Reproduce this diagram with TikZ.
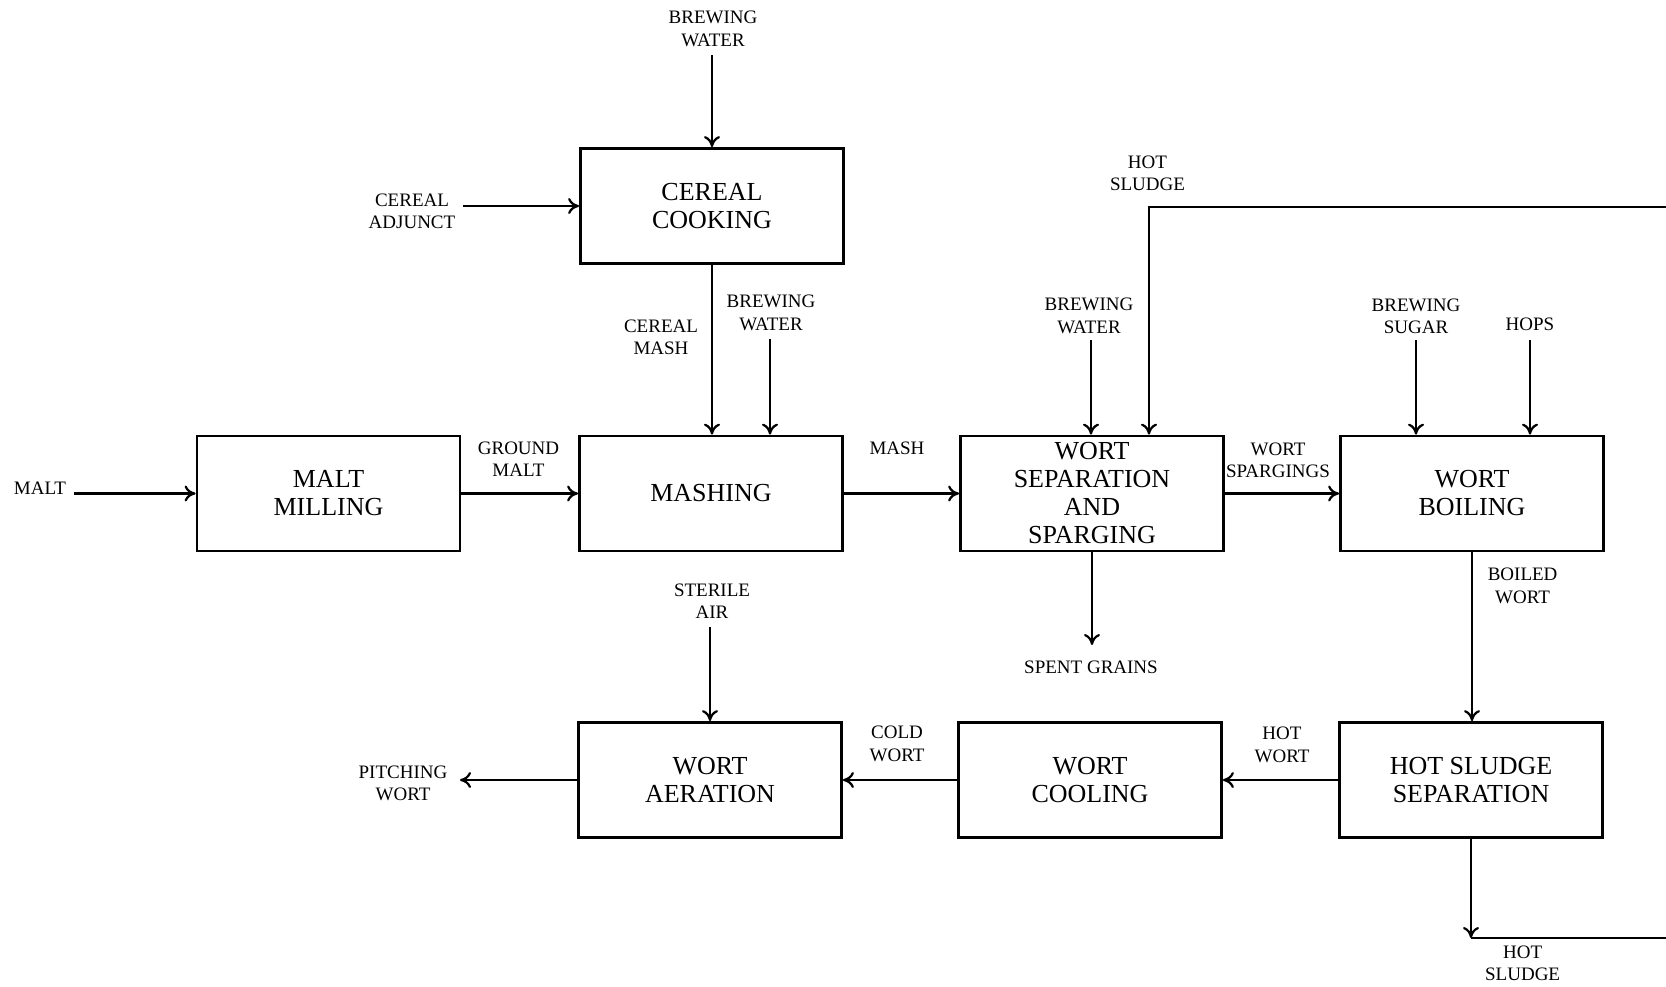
\documentclass[tikz,border=0pt]{standalone}
\usepackage{fontspec}
\setmainfont{Liberation Serif}
\usetikzlibrary{arrows.meta}
\tikzset{
  procbox/.style={draw, line width=1.4pt, minimum width=131.5pt, minimum height=57.5pt,
    align=center, inner sep=0pt, font=\fontsize{13}{14}\selectfont},
  lbl/.style={align=center, inner sep=0pt, font=\fontsize{9.5}{11.2}\selectfont},
  flow/.style={line width=1.1pt, -{To[length=5.5pt,width=8pt,line width=1.1pt]}},
  plain/.style={line width=1.1pt}
}
\begin{document}
\begin{tikzpicture}[x=0.5pt,y=-0.5pt]
\useasboundingbox (0,0) rectangle (1666,986);
% process boxes
\node[procbox] (cook) at (712,206) {CEREAL\\COOKING};
\node[procbox] (mill) at (328.5,493.5) {MALT\\MILLING};
\node[procbox] (mash) at (711,493.5) {MASHING};
\node[procbox] (sep) at (1092,493.5) {WORT\\SEPARATION\\AND\\SPARGING};
\node[procbox] (boil) at (1472,493.5) {WORT\\BOILING};
\node[procbox] (aer) at (710,780) {WORT\\AERATION};
\node[procbox] (cool) at (1090,780) {WORT\\COOLING};
\node[procbox] (hss) at (1471,780) {HOT SLUDGE\\SEPARATION};
% labels
\node[lbl] (lw1) at (713,29) {BREWING\\WATER};
\node[lbl] (ladj) at (412,211) {CEREAL\\ADJUNCT};
\node[lbl] (lcm) at (661,337) {CEREAL\\MASH};
\node[lbl] (lw2) at (771,313) {BREWING\\WATER};
\node[lbl] (lmalt) at (40,488) {MALT};
\node[lbl] (lgm) at (518.5,459.5) {GROUND\\MALT};
\node[lbl] (lmash) at (897,448) {MASH};
\node[lbl] (lw3) at (1089,316) {BREWING\\WATER};
\node[lbl] (lhs1) at (1147.5,173) {HOT\\SLUDGE};
\node[lbl] (lsp) at (1278,460.5) {WORT\\SPARGINGS};
\node[lbl] (lsug) at (1416,316) {BREWING\\SUGAR};
\node[lbl] (lhops) at (1530,324) {HOPS};
\node[lbl] (lspent) at (1091,667) {SPENT GRAINS};
\node[lbl] (lbw) at (1522.6,586) {BOILED\\WORT};
\node[lbl] (lair) at (712,601) {STERILE\\AIR};
\node[lbl] (lcw) at (897,744) {COLD\\WORT};
\node[lbl] (lhw) at (1282,745) {HOT\\WORT};
\node[lbl] (lpw) at (403,783.5) {PITCHING\\WORT};
\node[lbl] (lhs2) at (1522.6,963.5) {HOT\\SLUDGE};
% free ends
\coordinate (w1) at (712,55);
\coordinate (adj) at (463,206);
\coordinate (w2) at (770,339);
\coordinate (malt) at (74,493.5);
\coordinate (w3) at (1091,340);
\coordinate (hsR) at (1666,207);
\coordinate (hsC) at (1149,207);
\coordinate (sug) at (1416,340);
\coordinate (hops) at (1530,340);
\coordinate (spent) at (1092,645);
\coordinate (air) at (710,627);
\coordinate (pw) at (460,780);
\coordinate (hsB) at (1471,938);
\coordinate (hsBR) at (1666,938);
% connectors
\draw[flow] (w1) -- (cook.north);
\draw[flow] (adj) -- (cook.west);
\draw[flow] (cook.south) -- (cook.south |- mash.north);
\draw[flow] (w2) -- (w2 |- mash.north);
\draw[flow] (malt) -- (mill.west);
\draw[flow] (mill.east) -- (mash.west);
\draw[flow] (mash.east) -- (sep.west);
\draw[flow] (w3) -- (w3 |- sep.north);
\draw[flow] (hsR) -- (hsC) -- (hsC |- sep.north);
\draw[flow] (sep.east) -- (boil.west);
\draw[flow] (sug) -- (sug |- boil.north);
\draw[flow] (hops) -- (hops |- boil.north);
\draw[flow] (sep.south) -- (spent);
\draw[flow] (boil.south) -- (boil.south |- hss.north);
\draw[flow] (air) -- (aer.north);
\draw[flow] (hss.west) -- (cool.east);
\draw[flow] (cool.west) -- (aer.east);
\draw[flow] (aer.west) -- (pw);
\draw[flow] (hss.south) -- (hsB);
\draw[plain] (hsB) -- (hsBR);
\end{tikzpicture}
\end{document}
